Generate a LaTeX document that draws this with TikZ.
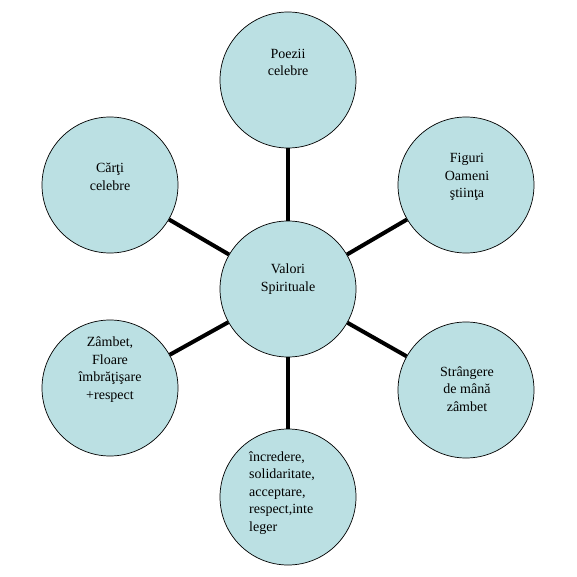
\documentclass[tikz,border=0pt]{standalone}
\usepackage{fontspec}
\setmainfont{Liberation Serif}
\definecolor{bubble}{RGB}{187,224,227}
\begin{document}
\begin{tikzpicture}[x=1pt,y=-1pt,
  bubble/.style={circle,draw=black,line width=0.7pt,fill=bubble,minimum size=136pt,inner sep=0pt},
  txt/.style={inner sep=0pt,align=center,font=\fontsize{14}{17.5}\selectfont,
    execute at begin node=\strut,execute at end node=\strut},
  spoke/.style={line width=4pt,black}]
\useasboundingbox (0,0) rectangle (577,577);
\fill[white] (0,0) rectangle (577,577);
\node[bubble] (c) at (288,289) {};
\node[bubble] (n1) at (288,80) {};
\node[bubble] (n2) at (466,185) {};
\node[bubble] (n3) at (466,390) {};
\node[bubble] (n4) at (288,497) {};
\node[bubble] (n5) at (110,388) {};
\node[bubble] (n6) at (110,185) {};
\foreach \n in {n1,n2,n3,n4,n5,n6} \draw[spoke] (c) -- (\n);
\node[txt] (tc) at (288,280.5) {Valori\\Spirituale};
\node[txt] (t1) at (288,65) {Poezii\\celebre};
\node[txt] (t2) at (467,178) {Figuri\\Oameni\\ştiinţa};
\node[txt] (t3) at (467,391.4) {Strângere\\de mână\\zâmbet};
\node[txt,align=left,anchor=west] (t4) at (249,494.2) {încredere,\\solidaritate,\\acceptare,\\respect,inte\\leger};
\node[txt] (t5) at (110,370.8) {Zâmbet,\\Floare\\îmbrăţişare\\+respect};
\node[txt] (t6) at (110,179.4) {Cărţi\\celebre};
\end{tikzpicture}
\end{document}
